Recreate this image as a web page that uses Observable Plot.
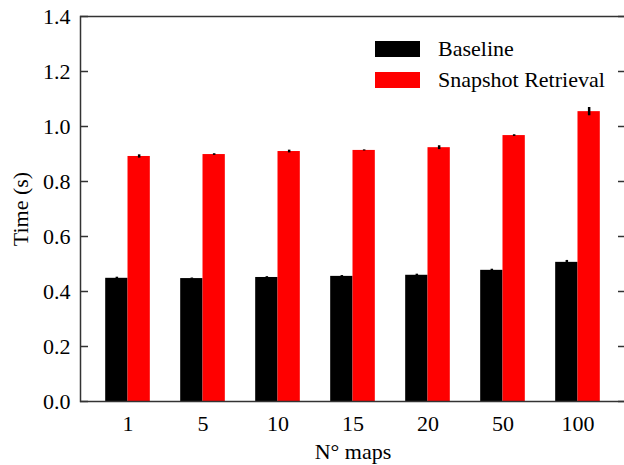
<!DOCTYPE html>
<html>
<head>
<meta charset="utf-8">
<script src="https://cdn.jsdelivr.net/npm/d3@7"></script>
<script src="https://cdn.jsdelivr.net/npm/@observablehq/plot@0.6"></script>
<style>
  html, body { margin: 0; padding: 0; background: #fff; overflow: hidden; width: 624px; height: 465px; }
  #wrap { position: relative; width: 624px; height: 465px; overflow: hidden; }
  #legend { position: absolute; left: 375px; top: 33px; font-family: "Liberation Serif", "DejaVu Serif", serif; font-size: 22px; color: #000; }
  .item { display: flex; align-items: center; height: 31px; }
  .sw { width: 45px; height: 16px; margin-right: 18px; }
</style>
</head>
<body>
<div id="wrap"></div>
<script>
const categories = ["1", "5", "10", "15", "20", "50", "100"];
const seriesNames = ["Baseline", "Snapshot Retrieval"];
const seriesColors = ["#000000", "#ff0000"];
const baseline = [0.448, 0.447, 0.451, 0.455, 0.459, 0.477, 0.506];
const baselineErr = [0.004, 0.002, 0.003, 0.003, 0.004, 0.004, 0.007];
const snapshot = [0.891, 0.898, 0.909, 0.913, 0.923, 0.967, 1.054];
const snapshotErr = [0.006, 0.003, 0.005, 0.002, 0.007, 0.003, 0.015];
const yTicks = [0, 0.2, 0.4, 0.6, 0.8, 1.0, 1.2, 1.4];
const xLabel = "N° maps";
const yLabel = "Time (s)";

const rows = categories.map((c, i) => ({
  cat: c,
  base: baseline[i], baseErr: baselineErr[i],
  snap: snapshot[i], snapErr: snapshotErr[i]
}));

const font = "Liberation Serif, DejaVu Serif, serif";
const axisColor = "#333";

function build(half) {
  return Plot.plot({
    width: 625,
    height: 465,
    marginLeft: 80,
    marginRight: 0,
    marginTop: 16,
    marginBottom: 64,
    style: {fontFamily: font, fontSize: "22px", color: "#000", background: "#fff", maxWidth: "none", overflow: "visible"},
    x: {domain: categories, paddingInner: 0.405, paddingOuter: 0.336, round: false, axis: null},
    y: {domain: [0, 1.4], axis: null},
    marks: [
      Plot.barY(rows, {x: "cat", y: "base", fill: seriesColors[0], insetRight: half}),
      Plot.barY(rows, {x: "cat", y: "snap", fill: seriesColors[1], insetLeft: half}),
      Plot.ruleX(rows, {x: "cat", y1: d => d.base - d.baseErr, y2: d => d.base + d.baseErr, dx: -half / 2, stroke: "#000", strokeWidth: 2.5}),
      Plot.ruleX(rows, {x: "cat", y1: d => d.snap - d.snapErr, y2: d => d.snap + d.snapErr, dx: half / 2, stroke: "#000", strokeWidth: 2.5}),
      Plot.frame({stroke: axisColor, strokeWidth: 1.5}),
      Plot.axisY(yTicks, {anchor: "left", tickSize: 8, dx: 8, tickFormat: () => "", label: null, stroke: axisColor, strokeWidth: 1.5}),
      Plot.axisY(yTicks, {anchor: "right", tickSize: 8, dx: -8, tickFormat: () => "", label: null, stroke: axisColor, strokeWidth: 1.5}),
      Plot.axisY(yTicks, {anchor: "left", tickSize: 0, tickPadding: 10, tickFormat: d3.format(".1f"), label: null, fill: "#000"}),
      Plot.text([yLabel], {text: d => d, frameAnchor: "left", textAnchor: "middle", rotate: -90, dx: -60, fill: "#000"}),
      Plot.axisX({anchor: "bottom", tickSize: 0, tickPadding: 14, label: null, fill: "#000"}),
      Plot.text([xLabel], {text: d => d, frameAnchor: "bottom", dy: 57, fill: "#000"})
    ]
  });
}

const first = build(22);
const bw = first.scale("x").bandwidth;
const chart = build(bw / 2);
const wrap = document.getElementById("wrap");
wrap.appendChild(chart);

const legend = document.createElement("div");
legend.id = "legend";
seriesNames.forEach((name, i) => {
  const item = document.createElement("div");
  item.className = "item";
  const sw = document.createElement("div");
  sw.className = "sw";
  sw.style.background = seriesColors[i];
  const t = document.createElement("span");
  t.textContent = name;
  item.appendChild(sw);
  item.appendChild(t);
  legend.appendChild(item);
});
wrap.appendChild(legend);
</script>
</body>
</html>
